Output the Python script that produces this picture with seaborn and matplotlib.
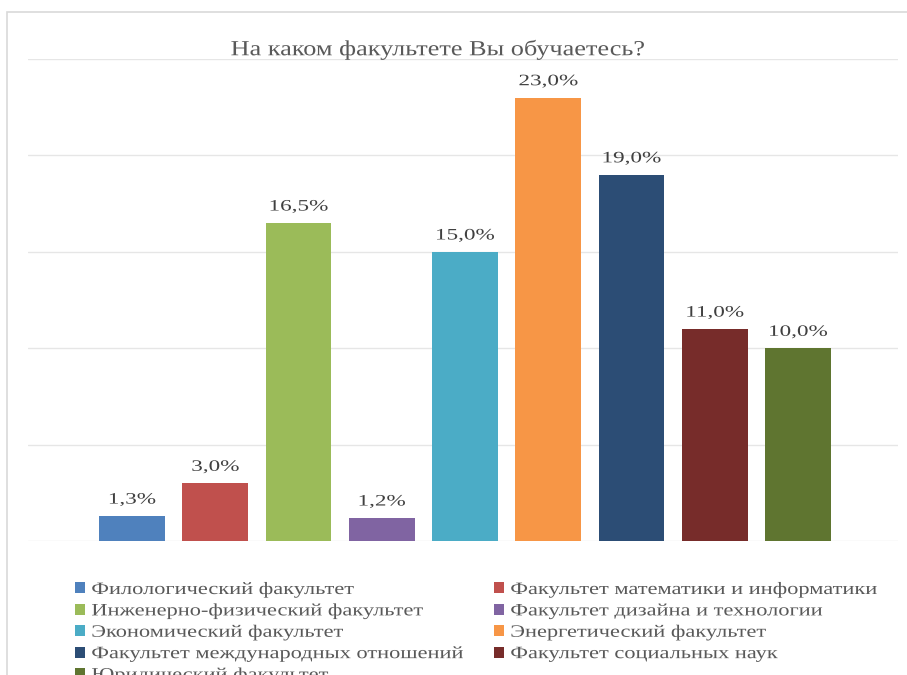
import matplotlib
matplotlib.use("Agg")
import matplotlib.pyplot as plt
from matplotlib.patches import Rectangle
from matplotlib.patheffects import AbstractPathEffect
from matplotlib.transforms import Affine2D
import seaborn as sns
import pandas as pd

# ---- data ----
title = "На каком факультете Вы обучаетесь?"
categories = [
    "Филологический факультет",
    "Факультет математики и информатики",
    "Инженерно-физический факультет",
    "Факультет дизайна и технологии",
    "Экономический факультет",
    "Энергетический факультет",
    "Факультет международных отношений",
    "Факультет социальных наук",
    "Юридический факультет",
]
values = [1.3, 3.0, 16.5, 1.2, 15.0, 23.0, 19.0, 11.0, 10.0]
value_labels = ["1,3%", "3,0%", "16,5%", "1,2%", "15,0%", "23,0%", "19,0%", "11,0%", "10,0%"]
colors = ["#4F81BD", "#C0504D", "#9BBB59", "#8064A2", "#4BACC6",
          "#F79646", "#2C4D75", "#772C2A", "#5F7530"]
y_ticks = [0, 5, 10, 15, 20, 25]


class HStretch(AbstractPathEffect):
    """Horizontally stretch text glyphs (the reference text is widened)."""
    def __init__(self, sx, anchor="center"):
        super().__init__()
        self.sx = sx
        self.anchor = anchor

    def draw_path(self, renderer, gc, tpath, affine, rgbFace=None):
        ext = tpath.get_extents(affine)
        cx = ext.x0 if self.anchor == "left" else (ext.x0 + ext.x1) / 2
        aff = affine + Affine2D().translate(-cx, 0).scale(self.sx, 1).translate(cx, 0)
        renderer.draw_path(gc, tpath, aff, rgbFace)


sns.set_theme(style="white")
plt.rcParams["font.family"] = ["Liberation Serif", "DejaVu Serif"]

W, H = 907, 675
fig = plt.figure(figsize=(W / 100, H / 100), dpi=100)
fig.patch.set_facecolor("white")

# chart border (extends past right / bottom edge as in reference)
fig.patches.append(Rectangle((7 / W, -0.05), 1.0, 1 - 12 / H + 0.05,
                             transform=fig.transFigure, fill=False,
                             edgecolor="#D9D9D9", linewidth=1.2))

ax_l, ax_r = 28 / W, 898 / W
ax_b, ax_t = 1 - 541 / H, 1 - 59 / H
ax = fig.add_axes([ax_l, ax_b, ax_r - ax_l, ax_t - ax_b])

df = pd.DataFrame({"cat": categories, "val": values})
sns.barplot(data=df, x="cat", y="val", hue="cat", order=categories,
            hue_order=categories, palette=colors, width=0.79,
            legend=False, ax=ax, saturation=1, linewidth=0)

ax.set_ylim(0, 25)
ax.set_xlim(-1.25, 9.2)
ax.set_yticks(y_ticks)
ax.set_yticklabels([])
ax.set_xticks([])
ax.set_xlabel("")
ax.set_ylabel("")
ax.tick_params(length=0)
for s in ax.spines.values():
    s.set_visible(False)
ax.grid(axis="y", color="#E6E6E6", linewidth=1.0)
ax.set_axisbelow(True)

for cont in ax.containers:
    for bar in cont:
        idx = int(round(bar.get_x() + bar.get_width() / 2))
        t = ax.annotate(value_labels[idx],
                        (bar.get_x() + bar.get_width() / 2, bar.get_height()),
                        xytext=(0, 6), textcoords="offset points",
                        ha="center", va="bottom", fontsize=11.5, color="#404040")
        t.set_path_effects([HStretch(1.45)])

tt = ax.text((438 / W - ax_l) / (ax_r - ax_l), 1 + 9 / (541 - 59), title,
             transform=ax.transAxes, ha="center", va="center",
             fontsize=15.5, color="#595959")
tt.set_path_effects([HStretch(1.22)])

# legend: two columns, row-major order
def make_handles(idx_list):
    hs = [Rectangle((0, 0), 1, 1, facecolor=colors[i], edgecolor="none") for i in idx_list]
    ls = [categories[i] for i in idx_list]
    return hs, ls

leg_kw = dict(frameon=False, fontsize=12.5, handlelength=0.6, handleheight=0.6,
              handletextpad=0.35, labelspacing=0.31, borderpad=0, borderaxespad=0,
              labelcolor="#595959", loc="upper left")
h1, l1 = make_handles([0, 2, 4, 6, 8])
h2, l2 = make_handles([1, 3, 5, 7])
leg1 = fig.legend(h1, l1, bbox_to_anchor=(75 / W, 1 - 582 / H), **leg_kw)
leg2 = fig.legend(h2, l2, bbox_to_anchor=(494 / W, 1 - 582 / H), **leg_kw)
for lg in (leg1, leg2):
    for t in lg.get_texts():
        t.set_path_effects([HStretch(1.29, anchor="left")])

fig.savefig("out.png", dpi=100)
